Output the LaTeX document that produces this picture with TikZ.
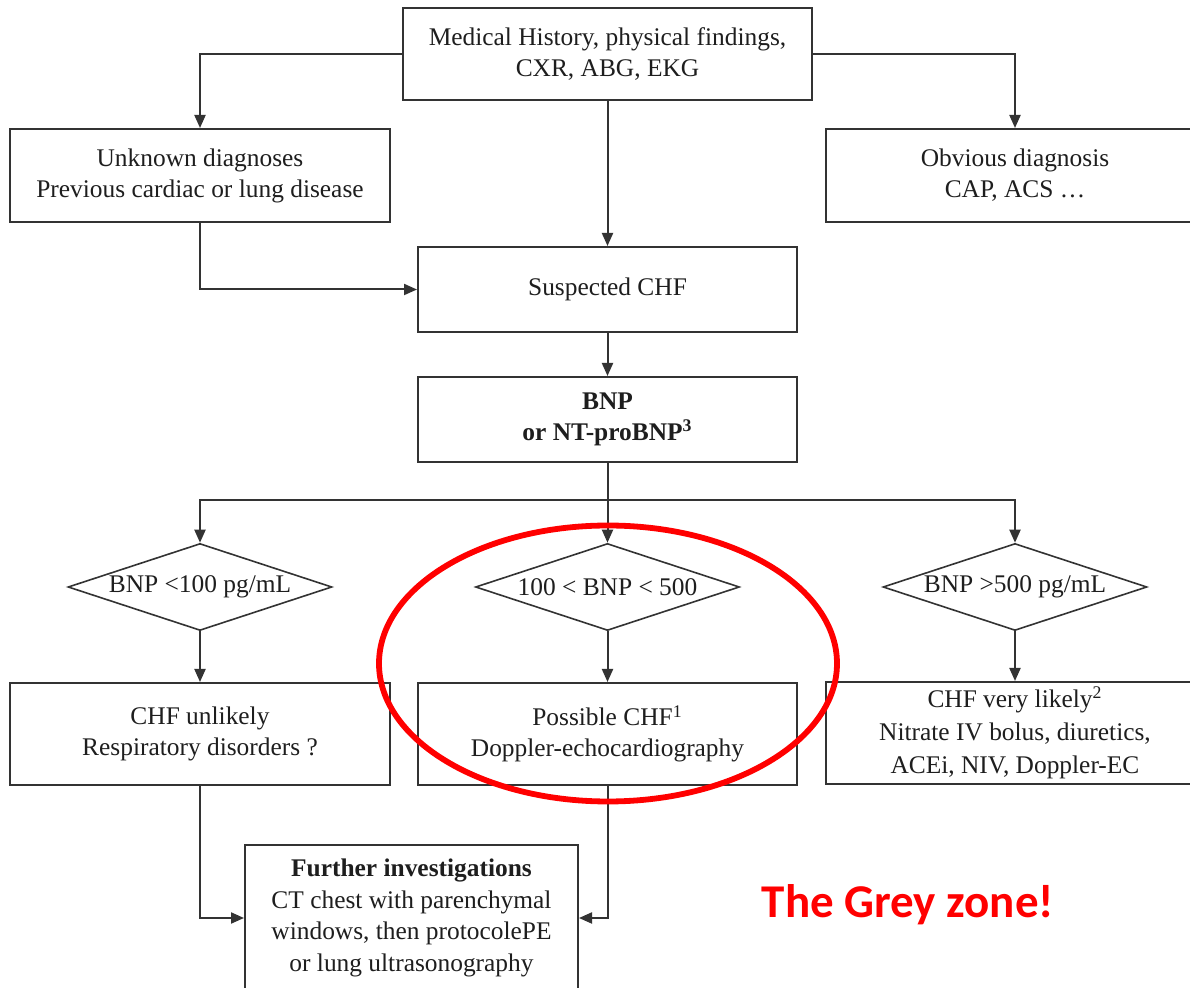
\documentclass[tikz,border=0pt]{standalone}
\usepackage{fontspec}
\setmainfont{Liberation Serif}
\newfontfamily\calib{Carlito}
\usetikzlibrary{shapes.geometric,arrows.meta}
\definecolor{ln}{HTML}{333333}
\definecolor{tx}{HTML}{1E1E1E}
\begin{document}
\begin{tikzpicture}[x=0.5pt,y=-0.5pt,
  every node/.style={text=tx,font=\fontsize{12.7pt}{15.5pt}\selectfont},
  box/.style={draw=ln,line width=1pt,rectangle,align=center,inner sep=0pt},
  dia/.style={draw=ln,line width=0.8pt,diamond,aspect=3,inner sep=0pt,minimum width=132pt,minimum height=43.5pt},
  arr/.style={draw=ln,line width=1pt,-{Triangle[length=6.5pt,width=5.5pt]}},
  ln/.style={draw=ln,line width=1pt}]
\useasboundingbox (0,0) rectangle (1190,988);
\clip (0,0) rectangle (1190,988);
\fill[white] (0,0) rectangle (1190,988);
% nodes
\node[box,minimum width=204.5pt,minimum height=46pt] (top) at (607.5,54) {Medical History, physical findings,\\CXR, ABG, EKG};
\node[box,minimum width=190pt,minimum height=46.5pt] (unk) at (200,175.5) {Unknown diagnoses\\Previous cardiac or lung disease};
\node[box,minimum width=189pt,minimum height=46.5pt] (obv) at (1015,175.5) {Obvious diagnosis\\CAP, ACS \ldots};
\node[box,minimum width=189.5pt,minimum height=42.5pt] (susp) at (607.5,289.5) {Suspected CHF};
\node[box,minimum width=189.5pt,minimum height=42.5pt] (bnp) at (607.5,419.5) {\textbf{BNP}\\\textbf{or NT-proBNP\textsuperscript{3}}};
\coordinate (j) at (607.5,500);
\node[dia] (d1) at (200,587) {BNP <100 pg/mL};
\node[dia] (d2) at (607.5,587) {100 < BNP < 500};
\node[dia] (d3) at (1015,587) {BNP >500 pg/mL};
\node[box,minimum width=190pt,minimum height=51pt] (b1) at (200,734) {CHF unlikely\\Respiratory disorders ?};
\node[box,minimum width=189.5pt,minimum height=51pt] (b2) at (607.5,734) {Possible CHF\textsuperscript{1}\\Doppler-echocardiography};
\node[box,minimum width=189pt,minimum height=51pt,font=\fontsize{12.7pt}{16.5pt}\selectfont] (b3) at (1015,733) {CHF very likely\textsuperscript{2}\\Nitrate IV bolus, diuretics,\\ACEi, NIV, Doppler-EC};
\node[box,minimum width=166.5pt,minimum height=73pt,font=\fontsize{12.7pt}{15.8pt}\selectfont] (fur) at (411.5,918) {\textbf{Further investigations}\\CT chest with parenchymal\\windows, then protocolePE\\or lung ultrasonography};
% connectors
\draw[arr] (top.west) -| (unk.north);
\draw[arr] (top.east) -| (obv.north);
\draw[arr] (top.south) -- (susp.north);
\draw[arr] (unk.south) |- (susp.west);
\draw[arr] (susp.south) -- (bnp.north);
\draw[ln] (bnp.south) -- (j);
\draw[arr] (j) -| (d1.north);
\draw[arr] (j) -- (d2.north);
\draw[arr] (j) -| (d3.north);
\draw[arr] (d1.south) -- (b1.north);
\draw[arr] (d2.south) -- (b2.north);
\draw[arr] (d3.south) -- (b3.north);
\draw[arr] (b1.south) |- (fur.west);
\draw[arr] (b2.south) |- (fur.east);
% highlight
\draw[red,line width=2.9pt] (608,663.5) ellipse [x radius=114.5pt,y radius=69pt];
\node[text=red,font=\calib\bfseries\fontsize{23.5pt}{28pt}\selectfont] (grey) at (908,905) {The Grey zone!};
\end{tikzpicture}
\end{document}
